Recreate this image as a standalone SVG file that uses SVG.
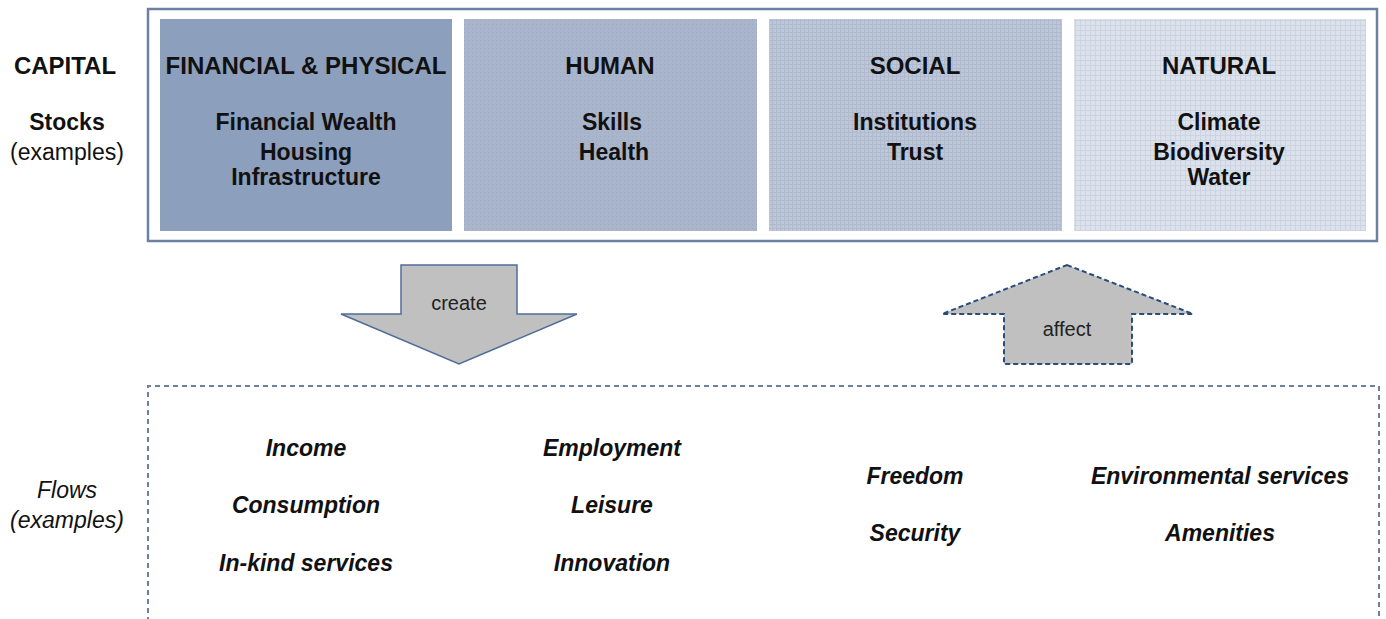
<svg xmlns="http://www.w3.org/2000/svg" width="1386" height="619" viewBox="0 0 1386 619">
<defs>
<pattern id="dots" width="4" height="4" patternUnits="userSpaceOnUse">
<rect width="4" height="4" fill="#A9B5CA"/>
<rect width="1" height="1" fill="#9DAAC1"/>
</pattern>
<pattern id="grid1" width="4" height="4" patternUnits="userSpaceOnUse">
<rect width="4" height="4" fill="#BEC7D8"/>
<path d="M0 0.5H4M0.5 0V4" stroke="#B0BACE" stroke-width="1"/>
</pattern>
<pattern id="grid2" width="5" height="5" patternUnits="userSpaceOnUse">
<rect width="5" height="5" fill="#DCE2EC"/>
<path d="M0 0.5H5M0.5 0V5" stroke="#CDD4E1" stroke-width="1"/>
</pattern>
</defs>
<style>
text{font-family:"Liberation Sans",Arial,sans-serif;fill:#111;text-anchor:middle}
.h{font-weight:bold;font-size:24px}
.s{font-weight:bold;font-size:23px}
.f{font-weight:bold;font-style:italic;font-size:23px}
.lab{font-size:23px}
.arr{font-size:20px;fill:#222}
</style>
<rect x="148" y="9" width="1229" height="232" fill="#fff" stroke="#6D7FA3" stroke-width="2.5"/>
<g id="labels">
<text class="h" x="65" y="74">CAPITAL</text>
<text class="s" x="67" y="130">Stocks</text>
<text class="lab" x="67" y="160">(examples)</text>
<text class="lab" x="67" y="498" font-style="italic">Flows</text>
<text class="lab" x="67" y="528" font-style="italic">(examples)</text>
</g>
<g id="financial">
<rect x="160" y="19" width="292" height="212" fill="#8C9FBC"/>
<text class="h" x="306" y="74">FINANCIAL &amp; PHYSICAL</text>
<text class="s" x="306" y="130">Financial Wealth</text>
<text class="s" x="306" y="160">Housing</text>
<text class="s" x="306" y="185">Infrastructure</text>
</g>
<g id="human">
<rect x="464" y="19" width="293" height="212" fill="url(#dots)"/>
<text class="h" x="610" y="74">HUMAN</text>
<text class="s" x="612" y="130">Skills</text>
<text class="s" x="614" y="160">Health</text>
</g>
<g id="social">
<rect x="769" y="19" width="293" height="212" fill="url(#grid1)"/>
<text class="h" x="915" y="74">SOCIAL</text>
<text class="s" x="915" y="130">Institutions</text>
<text class="s" x="915" y="160">Trust</text>
</g>
<g id="natural">
<rect x="1074" y="19" width="292" height="212" fill="url(#grid2)"/>
<text class="h" x="1219" y="74">NATURAL</text>
<text class="s" x="1219" y="130">Climate</text>
<text class="s" x="1219" y="160">Biodiversity</text>
<text class="s" x="1219" y="185">Water</text>
</g>
<g id="connectors">
<g id="create">
<polygon points="401,265 517,265 517,314 577,314 459,364 341,314 401,314" fill="#C0C0C0" stroke="#4F6D9A" stroke-width="1.5"/>
<text class="arr" x="459" y="310">create</text>
</g>
<g id="affect">
<polygon points="1067,265 1193,314 1132,314 1132,364 1004,364 1004,314 942,314" fill="#C0C0C0" stroke="#284C7C" stroke-width="2" stroke-dasharray="5,3"/>
<text class="arr" x="1067" y="336">affect</text>
</g>
</g>
<g id="flows">
<path d="M148,640 V386 H1379 V640" fill="none" stroke="#6E80A0" stroke-width="2" stroke-dasharray="5,4"/>
<text class="f" x="306" y="456">Income</text>
<text class="f" x="306" y="513">Consumption</text>
<text class="f" x="306" y="571">In-kind services</text>
<text class="f" x="612" y="456">Employment</text>
<text class="f" x="612" y="513">Leisure</text>
<text class="f" x="612" y="571">Innovation</text>
<text class="f" x="915" y="484">Freedom</text>
<text class="f" x="915" y="541">Security</text>
<text class="f" x="1220" y="484">Environmental services</text>
<text class="f" x="1220" y="541">Amenities</text>
</g>
</svg>
